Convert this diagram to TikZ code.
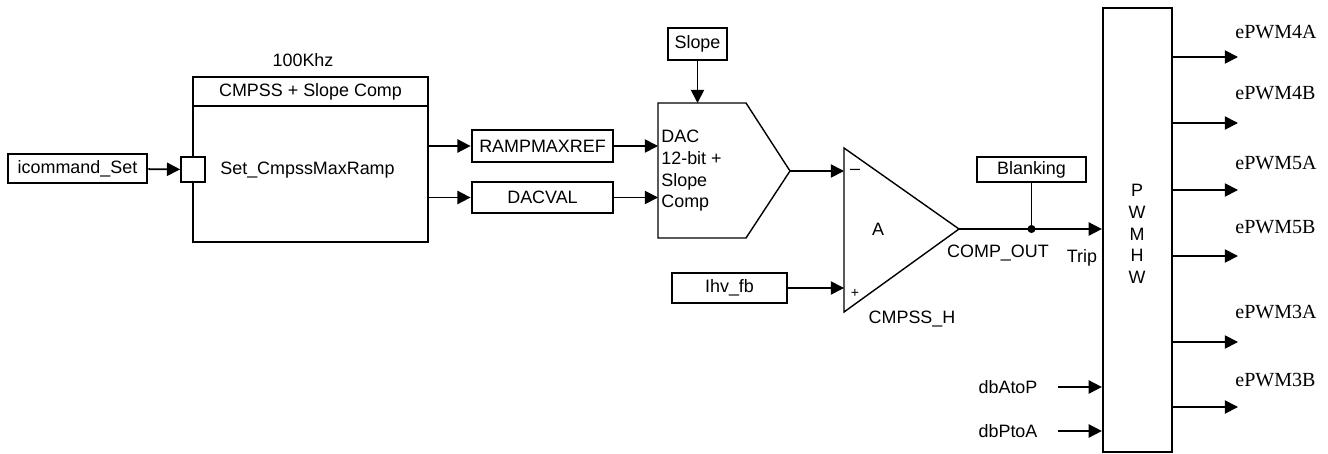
\documentclass[tikz,border=0pt]{standalone}
\usepackage{fontspec}
\setmainfont{Liberation Sans}
\newfontfamily\pwmserif{Liberation Serif}
\usetikzlibrary{arrows.meta,positioning}

\begin{document}
\begin{tikzpicture}[
  x=0.02cm, y=-0.02cm,
  sig/.style={draw, rectangle, line width=1.6pt, inner sep=0pt,
              minimum height=0.6cm, font=\fontsize{10.2}{12}\selectfont},
  blk/.style={draw, rectangle, line width=1.3pt, inner sep=0pt,
              font=\fontsize{10.2}{12}\selectfont},
  thinbox/.style={draw, rectangle, line width=0.8pt, inner sep=0pt,
              font=\fontsize{10.2}{12}\selectfont},
  lbl/.style={inner sep=0pt, font=\fontsize{10.2}{12}\selectfont},
  outlbl/.style={anchor=west, inner sep=0pt, font=\pwmserif\fontsize{11.4}{13}\selectfont},
  conn/.style={line width=1pt},
  >={Triangle[length=7.5pt,width=7.5pt]}
]
\useasboundingbox (0,0) rectangle (1328,453);

% ramp block
\node[sig, minimum width=2.78cm, minimum height=0.58cm] (cmd) at (77.5,168.5) {icommand\_Set};
\node[blk, minimum width=4.7cm, minimum height=0.58cm] (rhead) at (310.5,91.5) {CMPSS + Slope Comp};
\node[blk, minimum width=4.7cm, minimum height=2.72cm] (ramp) at (310.5,174) {};
\node[lbl, anchor=west] (rtext) at (220,170) {Set\_CmpssMaxRamp};
\node[lbl] (freq) at (303,60) {100Khz};
\node[draw, line width=1pt, fill=white, inner sep=0pt,
      minimum width=0.48cm, minimum height=0.5cm] (port) at (193,169.5) {};
\draw[conn,->] (cmd) -- (port);

% references
\node[sig, minimum width=2.82cm, minimum height=0.64cm] (rmax) at (542.5,146) {RAMPMAXREF};
\node[sig, minimum width=2.82cm, minimum height=0.62cm] (dacval) at (542.5,197.5) {DACVAL};
\draw[conn,->] (ramp.east |- rmax) -- (rmax);
\draw[conn,->] (ramp.east |- dacval) -- (dacval);

% DAC
\node[thinbox, minimum width=1.18cm, minimum height=0.64cm] (slope) at (697.5,44) {Slope};
\coordinate (dacNW) at (658,103);
\coordinate (dacSW) at (658,238);
\coordinate (dacout) at (790,171);
\draw[line width=0.8pt] (dacNW) -- (746,103) -- (dacout) -- (746,238) -- (dacSW) -- cycle;
\node[lbl, anchor=west, align=left, font=\fontsize{10.2}{12.3}\selectfont] (dactext) at (661,171)
  {DAC\\12-bit +\\Slope\\Comp};
\draw[conn,->] (rmax) -- (rmax -| dacNW);
\draw[conn,->] (dacval) -- (dacval -| dacNW);
\draw[conn,->] (slope) -- (slope |- dacNW);

% comparator
\coordinate (cmpT) at (844,148);
\coordinate (cmpB) at (844,312);
\coordinate (cmpout) at (959,229);
\draw[line width=0.8pt] (cmpT) -- (cmpout) -- (cmpB) -- cycle;
\node[lbl] (minus) at (855,172) {–};
\node[lbl, font=\fontsize{8}{9}\selectfont] (plus) at (855,293) {+};
\node[lbl] (amp) at (878,229) {A};
\node[lbl] (cmpname) at (912,319) {CMPSS\_H};
\node[sig, minimum width=2.3cm] (ihv) at (729.5,288) {Ihv\_fb};
\draw[conn,->] (dacout) -- (dacout -| cmpT);
\draw[conn,->] (ihv) -- (ihv -| cmpT);

% trip to PWM
\node[sig, minimum width=2.18cm, minimum height=0.5cm] (blank) at (1031.5,169.5) {Blanking};
\node[blk, minimum width=1.38cm, minimum height=8.88cm] (pwm) at (1137.5,230) {};
\node[lbl, align=center, font=\fontsize{10.2}{12.4}\selectfont] (pwmtext) at (1137,234) {P\\W\\M\\H\\W};
\coordinate (tap) at (blank.south |- cmpout);
\draw[conn,->] (cmpout) -- (cmpout -| pwm.west);
\draw[conn] (blank) -- (tap);
\fill (tap) circle[radius=2.3pt];
\node[lbl] (compout) at (998,253) {COMP\_OUT};
\node[lbl] (trip) at (1082,258) {Trip};

% dead band
\node[lbl] (dbap) at (1008,387) {dbAtoP};
\node[lbl] (dbpa) at (1008,431) {dbPtoA};
\draw[conn,->] ([xshift=0.4cm]dbap.east) -- (dbap -| pwm.west);
\draw[conn,->] ([xshift=0.4cm]dbpa.east) -- (dbpa -| pwm.west);

% outputs
\foreach \yo/\yl/\pin in {57/32/4A, 123/93/4B, 190/163/5A, 256/227/5B, 342/312/3A, 407/380/3B} {
  \coordinate (o\pin) at (1238,\yo);
  \draw[conn,->] (pwm.east |- o\pin) -- (o\pin);
  \node[outlbl] (l\pin) at (1235,\yl) {ePWM\pin};
}
\end{tikzpicture}
\end{document}
